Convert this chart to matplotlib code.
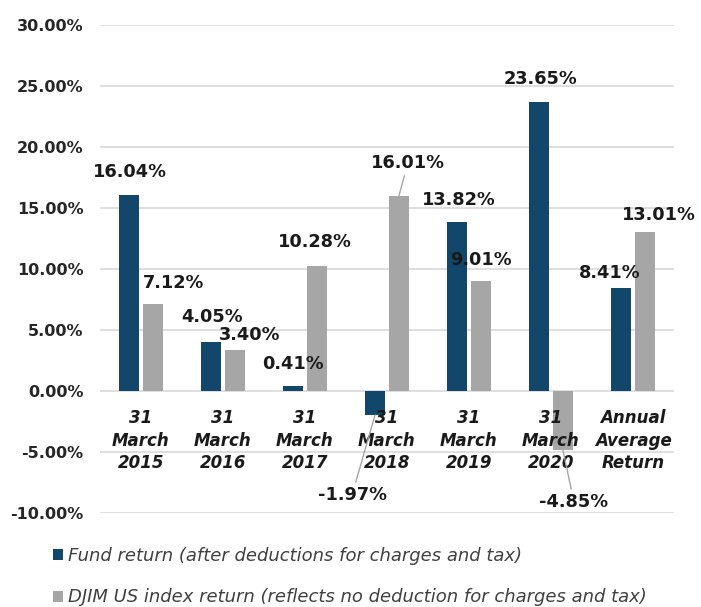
import numpy as np
import matplotlib.pyplot as plt
from matplotlib.ticker import FuncFormatter

# Data
categories = ['31\nMarch\n2015', '31\nMarch\n2016', '31\nMarch\n2017', '31\nMarch\n2018',
              '31\nMarch\n2019', '31\nMarch\n2020', 'Annual\nAverage\nReturn']
fund_return = [16.04, 4.05, 0.41, -1.97, 13.82, 23.65, 8.41]
index_return = [7.12, 3.40, 10.28, 16.01, 9.01, -4.85, 13.01]
fund_label = 'Fund return (after deductions for charges and tax)'
index_label = 'DJIM US index return (reflects no deduction for charges and tax)'

# label offsets from the bar end, in pixels (dx, dy)
fund_offsets = [(1, 23), (1, 25), (0, 22), (-23, -80), (2, 22), (1, 23), (-11, 15)]
index_offsets = [(21, 21), (15, 15), (-2, 24), (9, 33), (0, 21), (11, -52), (14, 17)]
fund_leader = [False, False, False, True, False, False, False]
index_leader = [False, False, False, True, False, True, False]

navy = '#13466B'
grey = '#A6A6A6'
plt.rcParams['font.family'] = 'DejaVu Sans'

fig = plt.figure(figsize=(7.01, 6.07), dpi=100)
ax = fig.add_axes([100 / 701, 1 - 513 / 607, 574 / 701, 488 / 607])

x = np.arange(len(categories))
w = 0.24
off = 0.146
b1 = ax.bar(x - off, fund_return, w, color=navy, label=fund_label, zorder=2)
b2 = ax.bar(x + off, index_return, w, color=grey, label=index_label, zorder=2)

ax.set_xlim(-0.5, len(categories) - 0.5)
ax.set_ylim(-10, 30)
ax.set_yticks(np.arange(-10, 31, 5))
ax.yaxis.set_major_formatter(FuncFormatter(lambda v, p: f'{v:.2f}%'))
ax.grid(axis='y', color='#D9D9D9', linewidth=1.2, zorder=0)
ax.set_axisbelow(True)
for s in ax.spines.values():
    s.set_visible(False)
ax.spines['bottom'].set_position(('data', 0))
ax.tick_params(axis='y', length=0, pad=12, labelsize=11.5, labelcolor='#262626')
for t in ax.get_yticklabels():
    t.set_fontweight('bold')

ax.set_xticks(x)
ax.set_xticklabels(categories, fontsize=12, fontweight='bold', fontstyle='italic',
                   linespacing=1.32, color='#1A1A1A')
ax.tick_params(axis='x', length=0, pad=13)
ax.xaxis.set_zorder(3)


def add_labels(bars, vals, offsets, leaders):
    for b, v, (dx, dy), lead in zip(bars, vals, offsets, leaders):
        xc = b.get_x() + b.get_width() / 2
        props = dict(arrowstyle='-', color=grey, lw=1, shrinkA=1, shrinkB=0) if lead else None
        ax.annotate(f'{v:.2f}%', xy=(xc, v), xytext=(dx, dy), textcoords='offset pixels',
                    ha='center', va='center', fontsize=12.8, fontweight='bold',
                    color='#1A1A1A', arrowprops=props, zorder=4)


add_labels(b1, fund_return, fund_offsets, fund_leader)
add_labels(b2, index_return, index_offsets, index_leader)

fig.legend(handles=[b1, b2], loc='upper left', bbox_to_anchor=(53 / 701, 1 - 547 / 607),
           frameon=False, borderpad=0, borderaxespad=0, handlelength=0.55, handleheight=0.55,
           handletextpad=0.3, labelspacing=1.3,
           prop={'size': 13, 'style': 'italic'}, labelcolor='#404040')

fig.savefig('out.png', dpi=100)
